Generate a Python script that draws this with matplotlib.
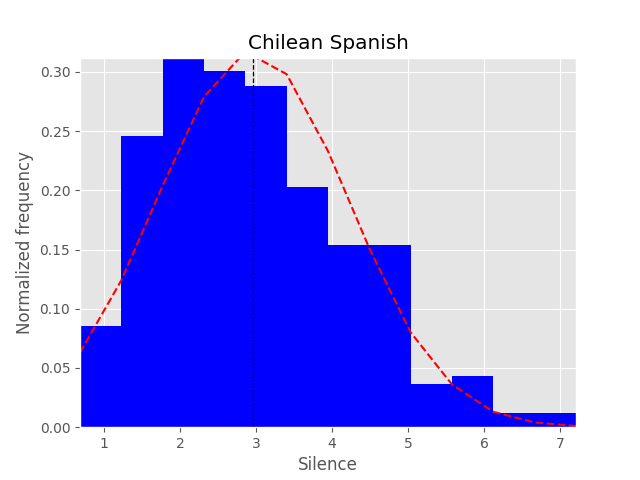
import numpy as np
import matplotlib
matplotlib.use('Agg')
import matplotlib.pyplot as plt

# bin edges (12 equal bins)
bin_edges = [0.684, 1.228, 1.772, 2.316, 2.859, 3.403, 3.947, 4.491, 5.035, 5.579, 6.122, 6.666, 7.210]
# normalized frequency per bin
heights = [0.0856, 0.2458, 0.317, 0.3006, 0.288, 0.2025, 0.1534, 0.1534, 0.0364, 0.0432, 0.0119, 0.0119]
# red dashed fit, one value at each bin edge
fit_values = [0.063, 0.124, 0.204, 0.279, 0.317, 0.298, 0.233, 0.151, 0.080, 0.036, 0.013, 0.004, 0.001]
mean_silence = 2.965

plt.style.use('ggplot')
fig = plt.figure(figsize=(6.4, 4.8), dpi=100)
ax = fig.add_subplot(111)

widths = np.diff(bin_edges)
ax.bar(bin_edges[:-1], heights, width=widths, align='edge', color='blue', linewidth=0)
ax.plot(bin_edges, fit_values, 'r--', linewidth=1.5)
ax.axvline(mean_silence, color='black', linestyle='--', linewidth=0.9)

ax.set_xlim(bin_edges[0], bin_edges[-1])
ax.set_ylim(0, 0.312)
ax.set_title('Chilean Spanish')
ax.set_xlabel('Silence')
ax.set_ylabel('Normalized frequency')

plt.savefig('out.png')
